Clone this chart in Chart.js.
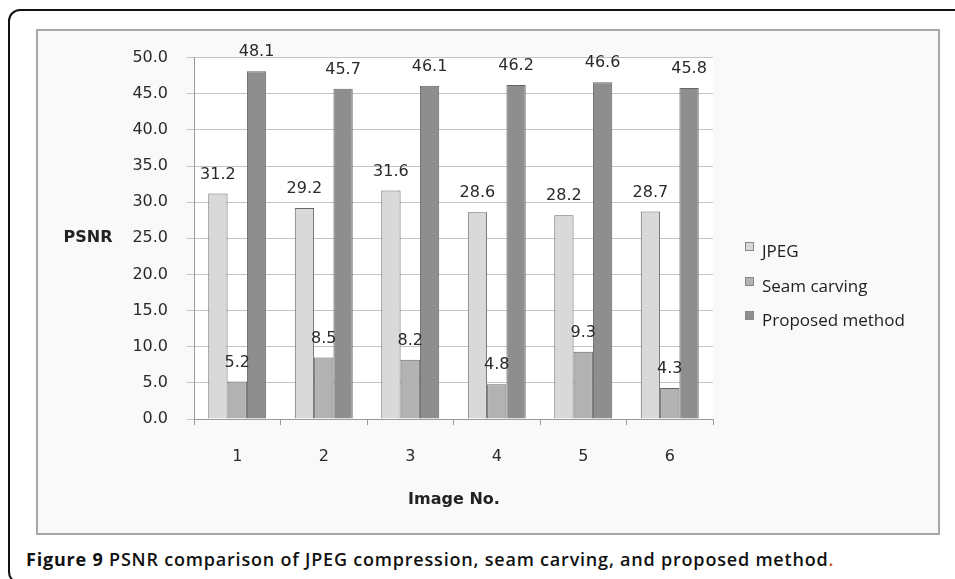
<!DOCTYPE html>
<html>
<head>
<meta charset="utf-8">
<script src="https://cdn.jsdelivr.net/npm/chart.js@4.4.1/dist/chart.umd.min.js"></script>
<style>
  html, body { margin: 0; padding: 0; background: #fff; }
  body { width: 955px; height: 579px; position: relative; overflow: hidden; }
  #frame {
    position: absolute; left: 8px; top: 9px; width: 1000px; height: 575px;
    border: 2px solid #111; border-radius: 12px; box-sizing: border-box;
  }
  #box {
    position: absolute; left: 36px; top: 29px; width: 904px; height: 506px;
    border: 2px solid #a8a8a8; background: #f9f9f9; box-sizing: border-box;
  }
  #wrap { position: absolute; left: 36px; top: 29px; width: 904px; height: 506px; }
  #caption {
    position: absolute; left: 26px; top: 547px; white-space: nowrap;
    font-family: "Open Sans", sans-serif; font-size: 18px; font-weight: 600; color: #111;
    letter-spacing: 0.8px;
  }
  #caption b { font-weight: 700; }
  #caption .dot { color: #c8501e; }
</style>
</head>
<body>
<div id="frame"></div>
<div id="box"></div>
<div id="wrap"><canvas id="grafico" width="904" height="506"></canvas></div>
<div id="caption"><b>Figure 9</b> PSNR comparison of JPEG compression, seam carving, and proposed method<span class="dot">.</span></div>
<script>
// dados
const imagens = ['1', '2', '3', '4', '5', '6'];
const jpeg = [31.2, 29.2, 31.6, 28.6, 28.2, 28.7];
const seamCarving = [5.2, 8.5, 8.2, 4.8, 9.3, 4.3];
const proposto = [48.1, 45.7, 46.1, 46.2, 46.6, 45.8];
const nomesSeries = ['JPEG', 'Seam carving', 'Proposed method'];
const coresSeries = ['#d9d9d9', '#b2b2b2', '#8e8e8e'];

const fonteEixo = { family: 'DejaVu Sans', size: 16 };

// fundo branco da area do grafico
const fundoArea = {
  id: 'fundoArea',
  beforeDraw(chart) {
    const { ctx, chartArea: a } = chart;
    ctx.save();
    ctx.fillStyle = '#ffffff';
    ctx.fillRect(a.left, a.top, a.right - a.left, a.bottom - a.top);
    ctx.restore();
  }
};

// rotulos de valor, titulos e legenda
const extras = {
  id: 'extras',
  afterDatasetsDraw(chart) {
    const ctx = chart.ctx;
    ctx.save();
    ctx.font = '16px "DejaVu Sans"';
    ctx.fillStyle = '#2a2a2a';
    ctx.textAlign = 'center';
    ctx.textBaseline = 'middle';
    chart.data.datasets.forEach((ds, i) => {
      chart.getDatasetMeta(i).data.forEach((bar, j) => {
        ctx.fillText(ds.data[j].toFixed(1), bar.x, bar.y - 19);
      });
    });

    // titulos dos eixos
    ctx.font = 'bold 16px "DejaVu Sans"';
    ctx.fillStyle = '#222';
    ctx.fillText('PSNR', 52, 209);
    ctx.fillText('Image No.', 418, 471);

    // legenda
    ctx.font = '17px "Open Sans"';
    ctx.textAlign = 'left';
    const linhas = [223, 258, 292];
    chart.data.datasets.forEach((ds, i) => {
      const y = linhas[i];
      ctx.fillStyle = ds.backgroundColor;
      ctx.fillRect(709.5, y - 9.5, 8, 8);
      ctx.strokeStyle = '#888';
      ctx.lineWidth = 1;
      ctx.strokeRect(709.5, y - 9.5, 8, 8);
      ctx.fillStyle = '#1e1e1e';
      ctx.fillText(ds.label, 726, y);
    });
    ctx.restore();
  }
};

new Chart(document.getElementById('grafico'), {
  type: 'bar',
  data: {
    labels: imagens,
    datasets: [jpeg, seamCarving, proposto].map((d, i) => ({
      label: nomesSeries[i],
      data: d,
      backgroundColor: coresSeries[i],
      borderColor: '#666',
      borderWidth: 1,
      barPercentage: 1,
      categoryPercentage: 0.67
    }))
  },
  options: {
    responsive: false,
    animation: false,
    layout: { padding: { top: 24, right: 227, bottom: 0, left: 0 } },
    plugins: {
      legend: { display: false },
      tooltip: { enabled: false }
    },
    scales: {
      x: {
        afterFit(scale) { scale.height = 116; },
        border: { display: true, color: '#9a9a9a', width: 1 },
        grid: { display: true, drawOnChartArea: false, drawTicks: true, tickLength: 6, offset: true, color: '#9a9a9a' },
        ticks: { font: fonteEixo, color: '#2a2a2a', padding: 22 }
      },
      y: {
        min: 0,
        max: 50,
        afterFit(scale) { scale.width = 158; },
        border: { display: true, color: '#9a9a9a', width: 1 },
        grid: { color: '#c4c4c4', tickLength: 7, drawTicks: true },
        ticks: {
          stepSize: 5,
          font: fonteEixo,
          color: '#2a2a2a',
          padding: 19,
          callback: v => v.toFixed(1)
        }
      }
    }
  },
  plugins: [fundoArea, extras]
});
</script>
</body>
</html>
